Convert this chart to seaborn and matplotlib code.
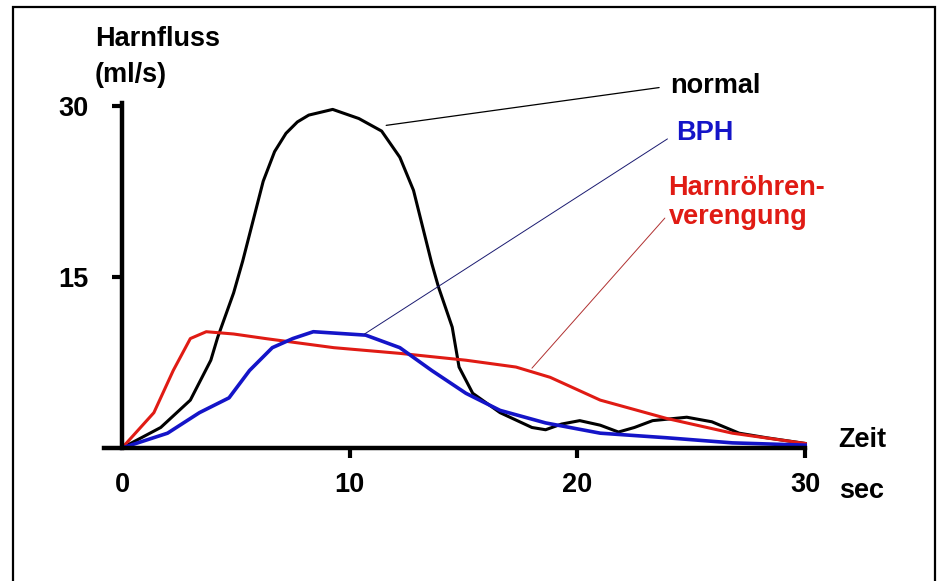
import matplotlib
matplotlib.use("Agg")
import matplotlib.pyplot as plt
import matplotlib.patches as patches
import seaborn as sns

# values (time in s, flow in ml/s)
normal_x = [0, 1.7, 3.0, 3.9, 4.2, 4.9, 5.3, 6.2, 6.7, 7.2, 7.7, 8.2, 9.25, 10.4, 11.4, 12.2, 12.8,
            13.6, 13.9, 14.5, 14.8, 15.4, 16.6, 18.0, 18.6, 19.3, 20.1, 21.0, 21.8, 22.5,
            23.3, 24.8, 25.9, 27.1, 28.3, 30]
normal_y = [0, 1.8, 4.2, 7.7, 9.7, 13.6, 16.4, 23.4, 26.0, 27.6, 28.6, 29.2, 29.7, 28.9, 27.8, 25.5, 22.6,
            16.2, 14.1, 10.6, 7.1, 4.8, 3.1, 1.8, 1.6, 2.1, 2.4, 2.0, 1.4, 1.8,
            2.4, 2.7, 2.3, 1.3, 0.9, 0.4]

bph_x = [0, 2.0, 3.4, 4.7, 5.6, 6.6, 7.5, 8.4, 10.7, 12.2, 13.6, 15.1, 16.6, 18.6,
         21.0, 23.9, 26.8, 30]
bph_y = [0, 1.3, 3.1, 4.4, 6.8, 8.8, 9.6, 10.2, 9.9, 8.8, 6.8, 4.8, 3.3, 2.2,
         1.3, 0.9, 0.45, 0.25]

stric_x = [0, 1.4, 2.25, 3.0, 3.7, 4.9, 6.3, 9.3, 12.2, 15.1, 17.3, 18.8, 21.0, 23.9, 26.8, 30]
stric_y = [0, 3.1, 6.8, 9.6, 10.2, 10.0, 9.6, 8.8, 8.3, 7.7, 7.1, 6.2, 4.2, 2.6, 1.3, 0.4]

x_ticks = [0, 10, 20, 30]
y_ticks = [15, 30]

BLACK = "#000000"
BLUE = "#1414c8"
RED = "#e01b14"

plt.rcParams["font.family"] = ["Liberation Sans", "DejaVu Sans"]
plt.rcParams["font.weight"] = "bold"
FS = 19.5

fig = plt.figure(figsize=(9.38, 5.81), dpi=100)
ax = fig.add_axes([0.1058, 0.2093, 0.7769, 0.6279])
ax.set_xlim(-1, 31)
ax.set_ylim(-1, 31)

sns.lineplot(x=normal_x, y=normal_y, ax=ax, color=BLACK, lw=2.2, sort=False)
sns.lineplot(x=stric_x, y=stric_y, ax=ax, color=RED, lw=2.2, sort=False)
sns.lineplot(x=bph_x, y=bph_y, ax=ax, color=BLUE, lw=2.6, sort=False)

# axes: thick left/bottom lines crossing at the origin
for s in ["top", "right"]:
    ax.spines[s].set_visible(False)
for s in ["left", "bottom"]:
    ax.spines[s].set_linewidth(3.2)
    ax.spines[s].set_position(("data", 0))
ax.spines["bottom"].set_bounds(-0.8, 30)
ax.spines["left"].set_bounds(0, 30.3)

ax.set_xticks(x_ticks)
ax.set_xticklabels([str(v) for v in x_ticks], fontsize=FS, fontweight="bold")
ax.set_yticks(y_ticks)
ax.set_yticklabels([str(v) for v in y_ticks], fontsize=FS, fontweight="bold")
ax.tick_params(axis="x", direction="out", length=7, width=3, pad=10)
ax.tick_params(axis="y", direction="out", length=7, width=3, pad=17)
ax.xaxis.get_major_ticks()[0].tick1line.set_visible(False)

# axis titles
ax.text(-1.2, 35.9, "Harnfluss", fontsize=FS, fontweight="bold", ha="left", va="center")
ax.text(-1.2, 32.7, "(ml/s)", fontsize=FS, fontweight="bold", ha="left", va="center")
ax.text(31.45, 0.7, "Zeit", fontsize=FS, fontweight="bold", ha="left", va="center")
ax.text(31.5, -3.8, "sec", fontsize=FS, fontweight="bold", ha="left", va="center")

# curve labels with leader lines
ax.annotate("normal", xy=(11.6, 28.3), xytext=(24.07, 31.75), fontsize=FS,
            fontweight="bold", color=BLACK, ha="left", va="center",
            arrowprops=dict(arrowstyle="-", color=BLACK, lw=0.9,
                            relpos=(0, 0.5), shrinkA=6, shrinkB=0))
ax.annotate("BPH", xy=(10.65, 10.0), xytext=(24.33, 27.6), fontsize=FS,
            fontweight="bold", color=BLUE, ha="left", va="center",
            arrowprops=dict(arrowstyle="-", color="#1a1a70", lw=0.7,
                            relpos=(0, 0.5), shrinkA=5, shrinkB=0))
ax.annotate("Harnröhren-\nverengung", xy=(18.0, 7.0), xytext=(24.0, 21.5), fontsize=FS,
            fontweight="bold", color=RED, ha="left", va="center", linespacing=1.15,
            arrowprops=dict(arrowstyle="-", color="#b03030", lw=0.7,
                            relpos=(0, 0.3), shrinkA=1, shrinkB=0))

# outer frame, open at the bottom edge of the image
frame = patches.Rectangle((0.0139, -0.05), 0.983, 1.038, transform=fig.transFigure,
                          fill=False, edgecolor="black", lw=1.6, clip_on=False)
fig.patches.append(frame)

fig.savefig("out.png", dpi=100)
